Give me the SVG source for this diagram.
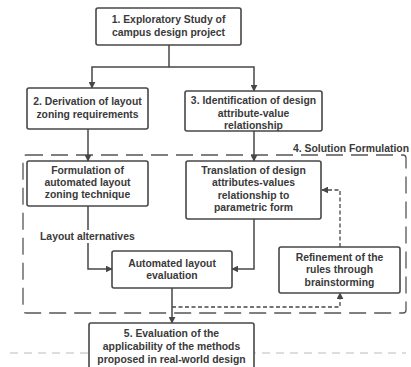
<svg xmlns="http://www.w3.org/2000/svg" width="411" height="367" viewBox="0 0 411 367">
<defs>
<style>
.box{fill:#fff;stroke:#474747;stroke-width:1.6}
.t{font-family:"Liberation Sans",Arial,sans-serif;font-size:10.4px;font-weight:bold;fill:#3a3a3a;text-anchor:middle}
.l{font-family:"Liberation Sans",Arial,sans-serif;font-size:10.4px;font-weight:bold;fill:#3a3a3a}
.c{fill:none;stroke:#474747;stroke-width:1.5}
.d{fill:none;stroke:#474747;stroke-width:1.3;stroke-dasharray:4 2.5}
</style>
<marker id="ah" viewBox="0 0 10 10" refX="9" refY="5" markerWidth="7" markerHeight="7" orient="auto" markerUnits="userSpaceOnUse">
<path d="M0,0 L10,5 L0,10 z" fill="#474747"/>
</marker>
</defs>
<rect width="411" height="367" fill="#fff"/>
<line x1="10" y1="353" x2="406" y2="353" stroke="#d2d2d2" stroke-width="1.5" stroke-dasharray="8 6"/>
<g id="region4">
<rect x="23" y="155" width="383" height="158" rx="3" fill="none" stroke="#555" stroke-width="1.3" stroke-dasharray="17 8"/>
<text class="l" x="293" y="152">4. Solution Formulation</text>
</g>
<g id="connectors">
<path class="c" d="M169,45 V67 H92 V88" marker-end="url(#ah)"/>
<path class="c" d="M169,67 H254 V91" marker-end="url(#ah)"/>
<path class="c" d="M88,129 V161" marker-end="url(#ah)"/>
<path class="c" d="M254,131 V161" marker-end="url(#ah)"/>
<path class="c" d="M88,206 V269 H112" marker-end="url(#ah)"/>
<path class="c" d="M254,219 V269 H232" marker-end="url(#ah)"/>
<path class="c" d="M172,288 V323" marker-end="url(#ah)"/>
<path class="d" d="M172,307 H340 V293" marker-end="url(#ah)"/>
<path class="d" d="M340,247 V190 H322" marker-end="url(#ah)"/>
<rect x="39" y="230" width="98" height="13" fill="#fff"/>
<text class="l" x="40" y="240">Layout alternatives</text>
</g>
<g id="n1">
<rect class="box" x="96" y="8" width="145" height="37" rx="2"/>
<text class="t" x="168.5" y="23">1. Exploratory Study of</text>
<text class="t" x="168.5" y="36">campus design project</text>
</g>
<g id="n2">
<rect class="box" x="27" y="88" width="121" height="41" rx="2"/>
<text class="t" x="87.5" y="105">2. Derivation of layout</text>
<text class="t" x="87.5" y="118">zoning requirements</text>
</g>
<g id="n3">
<rect class="box" x="185" y="91" width="137" height="40" rx="2"/>
<text class="t" x="253.5" y="104">3. Identification of design</text>
<text class="t" x="253.5" y="117">attribute-value</text>
<text class="t" x="253.5" y="129">relationship</text>
</g>
<g id="n4">
<rect class="box" x="27" y="161" width="121" height="45" rx="2"/>
<text class="t" x="87.5" y="174">Formulation of</text>
<text class="t" x="87.5" y="186">automated layout</text>
<text class="t" x="87.5" y="198">zoning technique</text>
</g>
<g id="n5">
<rect class="box" x="186" y="161" width="135" height="58" rx="2"/>
<text class="t" x="253.5" y="174">Translation of design</text>
<text class="t" x="253.5" y="186">attributes-values</text>
<text class="t" x="253.5" y="199">relationship to</text>
<text class="t" x="253.5" y="211">parametric form</text>
</g>
<g id="n6">
<rect class="box" x="112" y="251" width="120" height="37" rx="2"/>
<text class="t" x="172" y="267">Automated layout</text>
<text class="t" x="172" y="279">evaluation</text>
</g>
<g id="n7">
<rect class="box" x="279" y="247" width="121" height="46" rx="2"/>
<text class="t" x="339.5" y="261">Refinement of the</text>
<text class="t" x="339.5" y="273">rules through</text>
<text class="t" x="339.5" y="286">brainstorming</text>
</g>
<g id="n8">
<rect class="box" x="89" y="323" width="165" height="52" rx="2"/>
<text class="t" x="171.5" y="337">5. Evaluation of the</text>
<text class="t" x="171.5" y="350">applicability of the methods</text>
<text class="t" x="171.5" y="363">proposed in real-world design</text>
</g>
</svg>
